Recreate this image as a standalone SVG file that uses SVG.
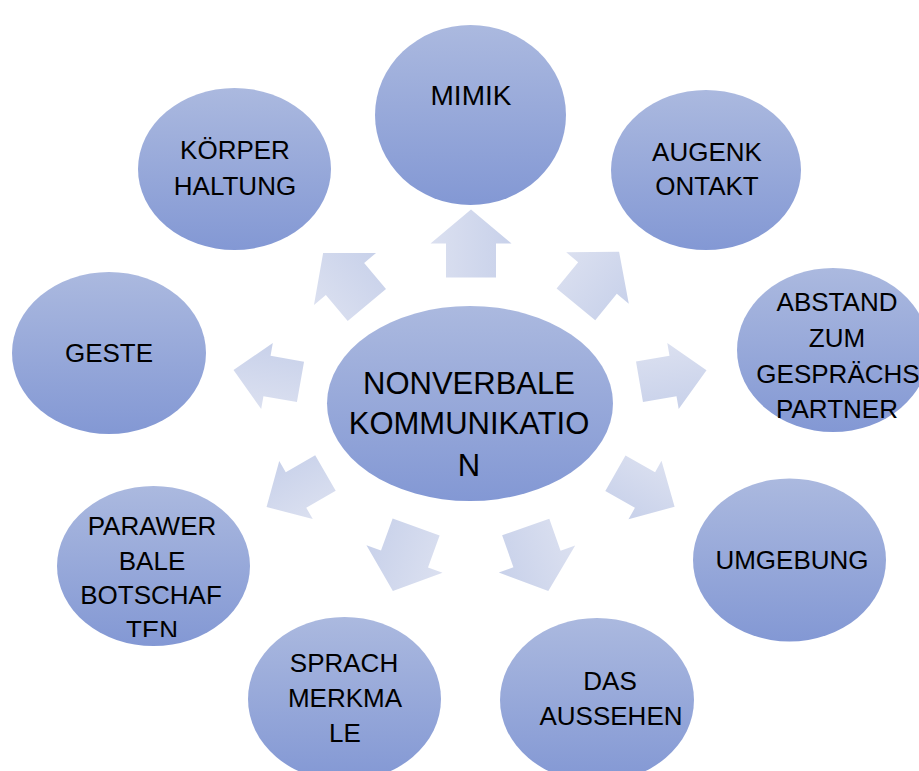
<svg xmlns="http://www.w3.org/2000/svg" width="919" height="771" viewBox="0 0 919 771">
<defs>
<linearGradient id="eg" x1="0" y1="0" x2="0" y2="1">
<stop offset="0" stop-color="#abb9df"/>
<stop offset="1" stop-color="#8398d4"/>
</linearGradient>
<linearGradient id="ag" x1="0" y1="0" x2="0" y2="1">
<stop offset="0" stop-color="#dbe0f0"/>
<stop offset="1" stop-color="#c8d1ea"/>
</linearGradient>
<polygon id="wide" points="-34,-25 0,-25 0,-40.5 34,0 0,40.5 0,25 -34,25"/>
<polygon id="narrow" points="-34,-20.5 0,-20.5 0,-33.5 34,0 0,33.5 0,20.5 -34,20.5"/>
<clipPath id="clipP"><rect x="0" y="0" width="919" height="637"/></clipPath>
</defs>
<style>
ellipse{fill:url(#eg);}
.arr use{fill:url(#ag);}
text{font-family:"Liberation Sans",Arial,sans-serif;font-size:26px;fill:#000;text-anchor:middle;}
.big{font-size:31px;}
.m{font-size:28px;}
</style>
<rect width="919" height="771" fill="#fff"/>
<g id="connectors" class="arr">
<use href="#wide" transform="translate(471,243.5) rotate(-90)"/>
<use href="#wide" transform="translate(597.5,278) rotate(-50.6)"/>
<use href="#narrow" transform="translate(673,376) rotate(-9.8)"/>
<use href="#narrow" transform="translate(645,490) rotate(29.5)"/>
<use href="#wide" transform="translate(537,559) rotate(70.6)"/>
<use href="#wide" transform="translate(404.5,559) rotate(110)"/>
<use href="#narrow" transform="translate(296,490) rotate(150)"/>
<use href="#narrow" transform="translate(267,376) rotate(190)"/>
<use href="#wide" transform="translate(345,279) rotate(230)"/>
</g>
<g id="center">
<ellipse cx="470" cy="403.5" rx="143" ry="97.5"/>
<text class="big" x="469" y="394">NONVERBALE</text>
<text class="big" x="469" y="434">KOMMUNIKATIO</text>
<text class="big" x="469" y="476">N</text>
</g>
<g id="mimik">
<ellipse cx="470.5" cy="115" rx="95.5" ry="90"/>
<text class="m" x="471" y="105">MIMIK</text>
</g>
<g id="augenkontakt">
<ellipse cx="706" cy="170" rx="95" ry="80"/>
<text x="707" y="161">AUGENK</text>
<text x="707" y="195">ONTAKT</text>
</g>
<g id="abstand">
<ellipse cx="833" cy="350" rx="96" ry="82"/>
<text x="837" y="311">ABSTAND</text>
<text x="837" y="347">ZUM</text>
<text x="838" y="383">GESPRÄCHS</text>
<text x="837" y="418">PARTNER</text>
</g>
<g id="umgebung">
<ellipse cx="789.5" cy="560" rx="96.5" ry="81.5"/>
<text x="792" y="569">UMGEBUNG</text>
</g>
<g id="aussehen">
<ellipse cx="597" cy="700" rx="97" ry="82"/>
<text x="610" y="690">DAS</text>
<text x="611" y="725">AUSSEHEN</text>
</g>
<g id="sprachmerkmale">
<ellipse cx="344.5" cy="699" rx="96.5" ry="82"/>
<text x="344" y="672">SPRACH</text>
<text x="345" y="707">MERKMA</text>
<text x="345" y="742">LE</text>
</g>
<g id="parawerbale">
<ellipse cx="153.5" cy="566" rx="96.5" ry="80"/>
<g clip-path="url(#clipP)">
<text x="152" y="535">PARAWER</text>
<text x="152" y="570">BALE</text>
<text x="151" y="604">BOTSCHAF</text>
<text x="152" y="639">TEN</text>
</g>
</g>
<g id="geste">
<ellipse cx="109" cy="353" rx="97" ry="81"/>
<text x="109" y="362">GESTE</text>
</g>
<g id="koerperhaltung">
<ellipse cx="234.5" cy="169" rx="96.5" ry="81"/>
<text x="235" y="159">KÖRPER</text>
<text x="235" y="195">HALTUNG</text>
</g>
</svg>
